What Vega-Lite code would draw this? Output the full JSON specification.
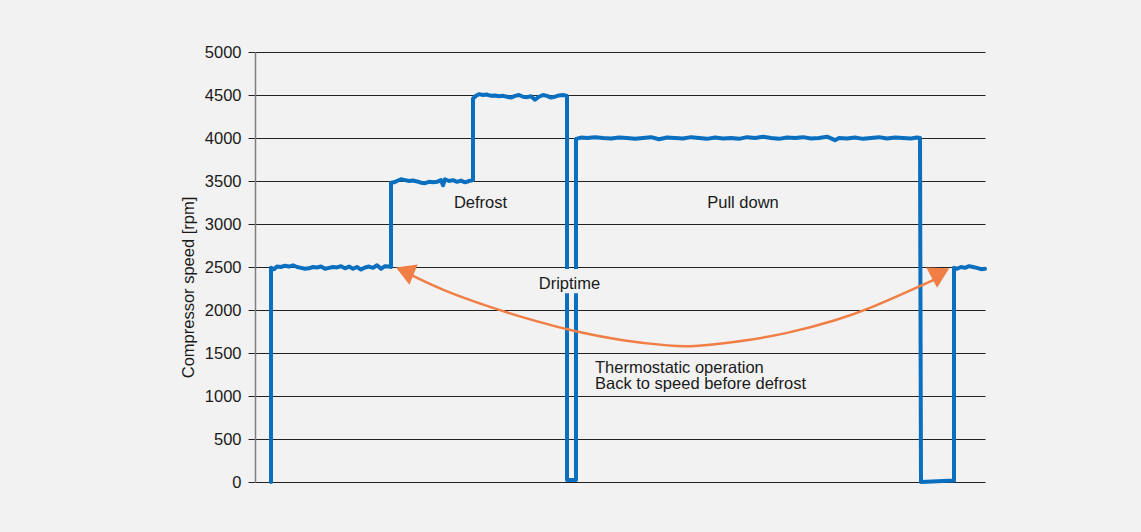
{
  "$schema": "https://vega.github.io/schema/vega-lite/v6.json",
  "width": 730,
  "height": 430,
  "autosize": {"type": "none"},
  "padding": {"left": 255, "top": 52, "right": 156, "bottom": 50},
  "background": "#f2f2f2",
  "config": {
    "view": {"stroke": null},
    "font": "Liberation Sans",
    "text": {"font": "Liberation Sans"}
  },
  "datasets": {
    "speed": [
      {"i": 0, "x": 16, "y": 0},
      {"i": 1, "x": 16, "y": 2490},
      {"i": 2, "x": 19, "y": 2475},
      {"i": 3, "x": 22, "y": 2505},
      {"i": 4, "x": 26, "y": 2500},
      {"i": 5, "x": 30, "y": 2515},
      {"i": 6, "x": 34, "y": 2505},
      {"i": 7, "x": 38, "y": 2520},
      {"i": 8, "x": 42, "y": 2500},
      {"i": 9, "x": 46, "y": 2490},
      {"i": 10, "x": 50, "y": 2480},
      {"i": 11, "x": 54, "y": 2485},
      {"i": 12, "x": 58, "y": 2500},
      {"i": 13, "x": 62, "y": 2495},
      {"i": 14, "x": 66, "y": 2505},
      {"i": 15, "x": 70, "y": 2480},
      {"i": 16, "x": 74, "y": 2490},
      {"i": 17, "x": 78, "y": 2500},
      {"i": 18, "x": 82, "y": 2495},
      {"i": 19, "x": 86, "y": 2510},
      {"i": 20, "x": 90, "y": 2485},
      {"i": 21, "x": 94, "y": 2505},
      {"i": 22, "x": 98, "y": 2480},
      {"i": 23, "x": 102, "y": 2500},
      {"i": 24, "x": 106, "y": 2470},
      {"i": 25, "x": 110, "y": 2495},
      {"i": 26, "x": 114, "y": 2505},
      {"i": 27, "x": 118, "y": 2490},
      {"i": 28, "x": 122, "y": 2520},
      {"i": 29, "x": 126, "y": 2480},
      {"i": 30, "x": 130, "y": 2510},
      {"i": 31, "x": 134, "y": 2505},
      {"i": 32, "x": 136, "y": 2500},
      {"i": 33, "x": 136, "y": 3480},
      {"i": 34, "x": 139, "y": 3485},
      {"i": 35, "x": 142, "y": 3500},
      {"i": 36, "x": 146, "y": 3520},
      {"i": 37, "x": 150, "y": 3510},
      {"i": 38, "x": 154, "y": 3500},
      {"i": 39, "x": 158, "y": 3505},
      {"i": 40, "x": 162, "y": 3495},
      {"i": 41, "x": 166, "y": 3480},
      {"i": 42, "x": 170, "y": 3475},
      {"i": 43, "x": 174, "y": 3490},
      {"i": 44, "x": 178, "y": 3485},
      {"i": 45, "x": 182, "y": 3490},
      {"i": 46, "x": 186, "y": 3510},
      {"i": 47, "x": 188, "y": 3450},
      {"i": 48, "x": 190, "y": 3520},
      {"i": 49, "x": 194, "y": 3500},
      {"i": 50, "x": 198, "y": 3510},
      {"i": 51, "x": 202, "y": 3490},
      {"i": 52, "x": 206, "y": 3505},
      {"i": 53, "x": 210, "y": 3485},
      {"i": 54, "x": 214, "y": 3500},
      {"i": 55, "x": 218, "y": 3510},
      {"i": 56, "x": 218, "y": 4460},
      {"i": 57, "x": 221, "y": 4490},
      {"i": 58, "x": 224, "y": 4510},
      {"i": 59, "x": 228, "y": 4500},
      {"i": 60, "x": 232, "y": 4505},
      {"i": 61, "x": 236, "y": 4490},
      {"i": 62, "x": 240, "y": 4495},
      {"i": 63, "x": 244, "y": 4485},
      {"i": 64, "x": 248, "y": 4490},
      {"i": 65, "x": 252, "y": 4480},
      {"i": 66, "x": 256, "y": 4470},
      {"i": 67, "x": 260, "y": 4490},
      {"i": 68, "x": 264, "y": 4500},
      {"i": 69, "x": 268, "y": 4480},
      {"i": 70, "x": 272, "y": 4475},
      {"i": 71, "x": 276, "y": 4485},
      {"i": 72, "x": 280, "y": 4445},
      {"i": 73, "x": 284, "y": 4480},
      {"i": 74, "x": 288, "y": 4500},
      {"i": 75, "x": 292, "y": 4490},
      {"i": 76, "x": 296, "y": 4470},
      {"i": 77, "x": 300, "y": 4480},
      {"i": 78, "x": 304, "y": 4495},
      {"i": 79, "x": 308, "y": 4500},
      {"i": 80, "x": 312, "y": 4490},
      {"i": 81, "x": 312, "y": 22},
      {"i": 82, "x": 321, "y": 22},
      {"i": 83, "x": 321, "y": 3990},
      {"i": 84, "x": 326, "y": 4005},
      {"i": 85, "x": 332, "y": 4000},
      {"i": 86, "x": 340, "y": 4010},
      {"i": 87, "x": 348, "y": 4000},
      {"i": 88, "x": 356, "y": 3995},
      {"i": 89, "x": 364, "y": 4005},
      {"i": 90, "x": 372, "y": 4000},
      {"i": 91, "x": 380, "y": 3990},
      {"i": 92, "x": 388, "y": 4000},
      {"i": 93, "x": 396, "y": 4010},
      {"i": 94, "x": 404, "y": 3985},
      {"i": 95, "x": 412, "y": 4005},
      {"i": 96, "x": 420, "y": 4000},
      {"i": 97, "x": 428, "y": 3995},
      {"i": 98, "x": 436, "y": 4010},
      {"i": 99, "x": 444, "y": 4000},
      {"i": 100, "x": 452, "y": 3990},
      {"i": 101, "x": 460, "y": 4005},
      {"i": 102, "x": 468, "y": 3995},
      {"i": 103, "x": 476, "y": 4000},
      {"i": 104, "x": 484, "y": 3990},
      {"i": 105, "x": 492, "y": 4010},
      {"i": 106, "x": 500, "y": 4000},
      {"i": 107, "x": 508, "y": 4015},
      {"i": 108, "x": 516, "y": 4000},
      {"i": 109, "x": 524, "y": 3990},
      {"i": 110, "x": 532, "y": 4005},
      {"i": 111, "x": 540, "y": 4000},
      {"i": 112, "x": 548, "y": 4010},
      {"i": 113, "x": 556, "y": 3995},
      {"i": 114, "x": 564, "y": 4000},
      {"i": 115, "x": 572, "y": 4015},
      {"i": 116, "x": 580, "y": 3975},
      {"i": 117, "x": 584, "y": 4000},
      {"i": 118, "x": 592, "y": 3995},
      {"i": 119, "x": 600, "y": 4005},
      {"i": 120, "x": 608, "y": 3990},
      {"i": 121, "x": 616, "y": 4000},
      {"i": 122, "x": 624, "y": 4010},
      {"i": 123, "x": 632, "y": 3995},
      {"i": 124, "x": 640, "y": 4005},
      {"i": 125, "x": 648, "y": 4000},
      {"i": 126, "x": 656, "y": 3995},
      {"i": 127, "x": 662, "y": 4005},
      {"i": 128, "x": 665, "y": 4000},
      {"i": 129, "x": 666, "y": 0},
      {"i": 130, "x": 699, "y": 18},
      {"i": 131, "x": 699, "y": 2490},
      {"i": 132, "x": 702, "y": 2480},
      {"i": 133, "x": 706, "y": 2500},
      {"i": 134, "x": 710, "y": 2490},
      {"i": 135, "x": 714, "y": 2510},
      {"i": 136, "x": 718, "y": 2500},
      {"i": 137, "x": 722, "y": 2490},
      {"i": 138, "x": 726, "y": 2475},
      {"i": 139, "x": 730, "y": 2480}
    ],
    "curve": [
      {"x": 152, "y": 2430},
      {"x": 185, "y": 2240},
      {"x": 235, "y": 2030},
      {"x": 285, "y": 1855},
      {"x": 318, "y": 1756},
      {"x": 368, "y": 1640},
      {"x": 418, "y": 1580},
      {"x": 435, "y": 1572},
      {"x": 482, "y": 1625},
      {"x": 532, "y": 1725},
      {"x": 582, "y": 1880},
      {"x": 615, "y": 2020},
      {"x": 648, "y": 2190},
      {"x": 675, "y": 2330},
      {"x": 685, "y": 2384}
    ],
    "labelBox": [{"x": 283, "x2": 346, "y": 2195, "y2": 2478}],
    "headLeft": [{"x": 149.75, "y": 2453}],
    "headRight": [{"x": 685.5, "y": 2430}],
    "labelsCenter": [
      {"x": 225.5, "y": 3186, "label": "Defrost"},
      {"x": 488, "y": 3186, "label": "Pull down"},
      {"x": 314.5, "y": 2244, "label": "Driptime"}
    ],
    "labelsLeft": [
      {"x": 340, "y": 1271, "label": "Thermostatic operation"},
      {"x": 340, "y": 1078, "label": "Back to speed before defrost"}
    ]
  },
  "encoding": {
    "x": {
      "field": "x",
      "type": "quantitative",
      "scale": {"domain": [0, 730], "nice": false, "zero": false},
      "axis": null
    },
    "y": {
      "field": "y",
      "type": "quantitative",
      "scale": {"domain": [0, 5000], "nice": false},
      "axis": {
        "title": "Compressor speed [rpm]",
        "values": [0, 500, 1000, 1500, 2000, 2500, 3000, 3500, 4000, 4500, 5000],
        "format": "d",
        "grid": true,
        "gridColor": "#222222",
        "gridWidth": 1,
        "domainColor": "#808080",
        "domainWidth": 1.5,
        "tickColor": "#222222",
        "tickSize": 7,
        "labelPadding": 7,
        "labelFont": "Liberation Sans",
        "labelFontSize": 16.5,
        "labelColor": "#1a1a1a",
        "titleFont": "Liberation Sans",
        "titleFontSize": 16.5,
        "titleFontWeight": "normal",
        "titleColor": "#1a1a1a",
        "titleX": -62,
        "titleY": 235,
        "titleAngle": 270,
        "titleAlign": "center",
        "titleBaseline": "alphabetic"
      }
    }
  },
  "layer": [
    {
      "data": {"name": "speed"},
      "mark": {"type": "line", "color": "#0a6fbf", "strokeWidth": 4, "strokeJoin": "round", "strokeCap": "round"},
      "encoding": {"order": {"field": "i", "type": "quantitative"}}
    },
    {
      "data": {"name": "labelBox"},
      "mark": {"type": "rect", "color": "#f2f2f2", "opacity": 1},
      "encoding": {
        "x2": {"field": "x2"},
        "y2": {"field": "y2"}
      }
    },
    {
      "data": {"name": "curve"},
      "mark": {"type": "line", "color": "#f07e45", "strokeWidth": 2.5, "interpolate": "basis"},
      "encoding": {}
    },
    {
      "data": {"name": "headLeft"},
      "mark": {"type": "point", "shape": "triangle-up", "filled": true, "color": "#f07e45", "opacity": 1, "size": 480, "angle": 292, "strokeWidth": 0}
    },
    {
      "data": {"name": "headRight"},
      "mark": {"type": "point", "shape": "triangle-up", "filled": true, "color": "#f07e45", "opacity": 1, "size": 530, "angle": 62, "strokeWidth": 0}
    },
    {
      "data": {"name": "labelsCenter"},
      "mark": {"type": "text", "align": "center", "baseline": "alphabetic", "fontSize": 16.5, "color": "#1a1a1a", "font": "Liberation Sans"},
      "encoding": {"text": {"field": "label"}}
    },
    {
      "data": {"name": "labelsLeft"},
      "mark": {"type": "text", "align": "left", "baseline": "alphabetic", "fontSize": 16.5, "color": "#1a1a1a", "font": "Liberation Sans"},
      "encoding": {"text": {"field": "label"}}
    }
  ]
}
